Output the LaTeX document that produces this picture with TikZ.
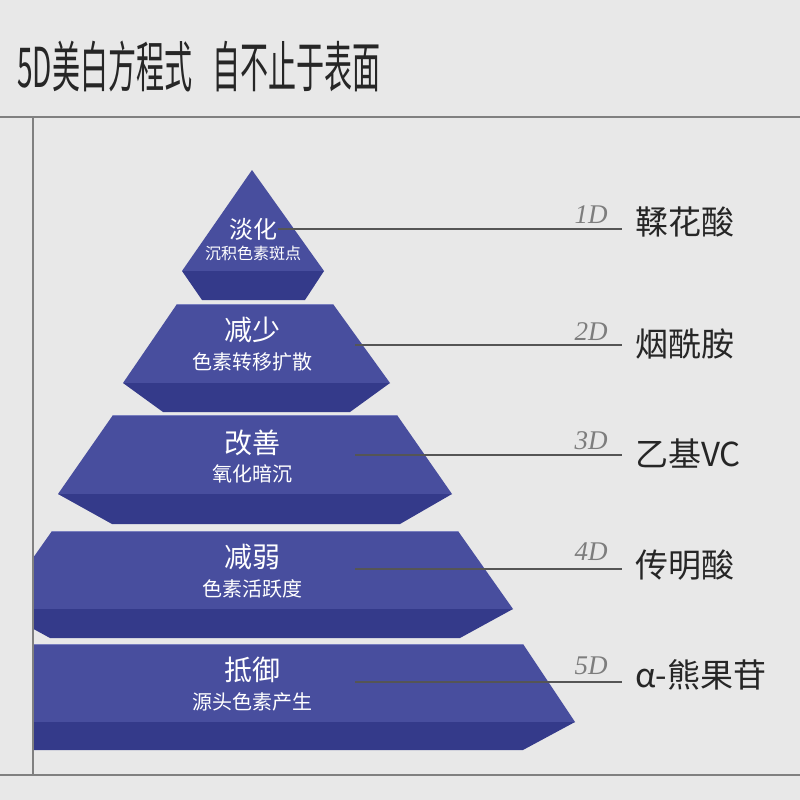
\documentclass[tikz,border=0pt]{standalone}
\usepackage{fontspec}
\newfontfamily\cjk{Noto Sans CJK SC}
\newfontfamily\titlefont[FakeStretch=0.51]{Noto Sans CJK SC}
\newfontfamily\dfont{Liberation Serif}
\definecolor{bg}{RGB}{232,232,232}
\definecolor{face}{RGB}{72,78,158}
\definecolor{band}{RGB}{52,58,138}
\definecolor{edge}{RGB}{120,126,190}
\definecolor{frame}{RGB}{128,128,128}
\definecolor{conn}{RGB}{85,85,85}
\definecolor{dgray}{RGB}{125,125,125}
\tikzset{
  facefill/.style={fill=face},
  bandfill/.style={fill=band},
  mainlbl/.style={text=white, font=\cjk\fontsize{28}{28}\selectfont, inner sep=0pt},
  sublbl/.style={text=white, font=\cjk\fontsize{20}{20}\selectfont, inner sep=0pt},
  dlbl/.style={text=dgray, font=\dfont\itshape\fontsize{27}{27}\selectfont, inner sep=0pt, anchor=base},
  namelbl/.style={text=black!85, font=\cjk\fontsize{33}{33}\selectfont, inner sep=0pt, anchor=base west},
  connline/.style={draw=conn, line width=1.1pt},
  frameline/.style={draw=frame, line width=1.2pt},
}
\begin{document}
\begin{tikzpicture}[x=1pt,y=-1pt]
\fill[bg] (0,0) rectangle (800,800);
\useasboundingbox (0,0) rectangle (800,800);
% title
\node[anchor=base west, inner sep=0pt, text=black!85, font=\titlefont\fontsize{55}{55}\selectfont] (title) at (17,87) {5D美白方程式\hspace{20pt}自不止于表面};
% frame
\draw[frameline] (0,117) -- (800,117);
\draw[frameline] (0,775) -- (800,775);
\draw[frameline] (33,117) -- (33,775);
% pyramid
\begin{scope}
\clip (34,120) rectangle (800,772);
% layer 1
\fill[facefill] (252,170) -- (324,271) -- (182,271) -- cycle;
\fill[bandfill] (182,271) -- (324,271) -- (305,300) -- (202,300) -- cycle;
% layer 2
\fill[facefill] (177,304) -- (333,304) -- (390,383) -- (123,383) -- cycle;
\fill[bandfill] (123,383) -- (390,383) -- (350,412) -- (163,412) -- cycle;
\draw[edge, line width=0.8pt] (177,304.5) -- (333,304.5);
% layer 3
\fill[facefill] (113,415) -- (397,415) -- (452,494) -- (58,494) -- cycle;
\fill[bandfill] (58,494) -- (452,494) -- (400,524) -- (112,524) -- cycle;
\draw[edge, line width=0.8pt] (113,415.5) -- (397,415.5);
% layer 4
\fill[facefill] (52,531) -- (458,531) -- (513,609) -- (-3,609) -- cycle;
\fill[bandfill] (-3,609) -- (513,609) -- (460,638) -- (50,638) -- cycle;
\draw[edge, line width=0.8pt] (52,531.5) -- (458,531.5);
% layer 5
\fill[facefill] (-13,644) -- (523,644) -- (575,722) -- (-65,722) -- cycle;
\fill[bandfill] (-65,722) -- (575,722) -- (523,750) -- (-13,750) -- cycle;
\draw[edge, line width=0.8pt] (0,644.5) -- (523,644.5);
\end{scope}
% pyramid labels
\node[text=white, font=\cjk\fontsize{24}{24}\selectfont, inner sep=0pt] (m1) at (253,229) {淡化};
\node[text=white, font=\cjk\fontsize{16}{16}\selectfont, inner sep=0pt] (s1) at (253,253) {沉积色素斑点};
\node[mainlbl] (m2) at (252,330) {减少};
\node[sublbl] (s2) at (252,362) {色素转移扩散};
\node[mainlbl] (m3) at (252,443) {改善};
\node[sublbl] (s3) at (252,474) {氧化暗沉};
\node[mainlbl] (m4) at (252,557) {减弱};
\node[sublbl] (s4) at (252,589) {色素活跃度};
\node[mainlbl] (m5) at (252,670) {抵御};
\node[sublbl] (s5) at (252,702) {源头色素产生};
% connectors
\coordinate (a1) at (278,229); \coordinate (b1) at (622,229);
\coordinate (a2) at (355,345); \coordinate (b2) at (622,345);
\coordinate (a3) at (355,455); \coordinate (b3) at (622,455);
\coordinate (a4) at (355,569); \coordinate (b4) at (622,569);
\coordinate (a5) at (355,682); \coordinate (b5) at (622,682);
\foreach \i in {1,...,5} { \draw[connline] (a\i) -- (b\i); }
% D labels
\node[dlbl] (d1) at (591,223) {1D};
\node[dlbl] (d2) at (591,340) {2D};
\node[dlbl] (d3) at (591,449) {3D};
\node[dlbl] (d4) at (591,560) {4D};
\node[dlbl] (d5) at (591,674) {5D};
% ingredient labels
\node[namelbl] (n1) at (635,234) {鞣花酸};
\node[namelbl] (n2) at (635,356) {烟酰胺};
\node[namelbl] (n3) at (635,466) {乙基VC};
\node[namelbl] (n4) at (635,577) {传明酸};
\node[namelbl] (n5) at (635,687) {α-熊果苷};
\end{tikzpicture}
\end{document}
